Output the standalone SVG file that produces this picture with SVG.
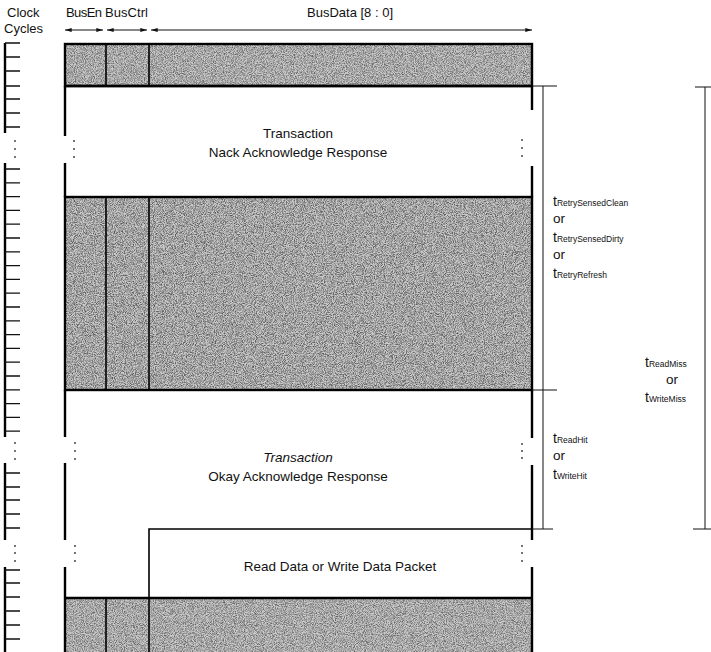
<svg xmlns="http://www.w3.org/2000/svg" width="711" height="652" viewBox="0 0 711 652">
<defs>
<style>
text{font-family:"Liberation Sans",Arial,sans-serif;fill:#111}
.hd{font-size:13px}
.lbl{font-size:13.5px}
.t{font-size:14px}
.sub{font-size:8.5px}
.shade{fill:#a8a8a8}
.grain{fill:#a8a8a8;filter:url(#grain)}
.thick{stroke:#000;stroke-width:2.4;fill:none}
.med{stroke:#000;stroke-width:1.6;fill:none}
.thin{stroke:#111;stroke-width:1;fill:none}
.tick{stroke:#111;stroke-width:1.3}
.dot{fill:#333}
</style>
<filter id="grain" x="0" y="0" width="1" height="1" filterUnits="objectBoundingBox" color-interpolation-filters="sRGB">
<feTurbulence type="fractalNoise" baseFrequency="1.1" numOctaves="2" seed="7" result="n"/>
<feColorMatrix in="n" type="matrix" values="0 0 0 2.2 -0.45  0 0 0 2.2 -0.45  0 0 0 2.2 -0.45  0 0 0 0 1" result="g"/>
<feComposite in="g" in2="SourceGraphic" operator="in"/>
</filter>
<marker id="ah" viewBox="0 0 10 6" refX="10" refY="3" markerWidth="8" markerHeight="4" orient="auto-start-reverse" markerUnits="userSpaceOnUse">
<path d="M0,0 L10,3 L0,6 z" fill="#111"/>
</marker>
</defs>
<rect width="711" height="652" fill="#fff"/>

<g id="header">
<text class="hd" x="7" y="17">Clock</text>
<text class="hd" x="4" y="33">Cycles</text>
<text class="hd" x="66" y="17" textLength="36">BusEn</text>
<text class="hd" x="105" y="17" textLength="43">BusCtrl</text>
<text class="hd" x="307" y="17">BusData [8 : 0]</text>
</g>

<g id="clock">
<path class="thick" d="M5,43 V133 M5,163 V437 M5,463 V540 M5,567 V652"/>
<path class="tick" d="M5,43H20M5,57H20M5,71H20M5,86H20M5,99H20M5,113H20M5,127H20
M5,169H20M5,182.8H20M5,196.6H20M5,210.4H20M5,224.2H20M5,238H20M5,251.8H20M5,265.6H20M5,279.4H20M5,293.2H20M5,307H20M5,320.8H20M5,334.6H20M5,348.4H20M5,362.2H20M5,376H20M5,389.8H20M5,403.6H20M5,417.4H20M5,431.2H20
M5,473H20M5,487H20M5,500H20M5,514H20M5,528H20
M5,570H20M5,583H20M5,597H20M5,611H20M5,625H20M5,639H20"/>
<circle class="dot" cx="15" cy="141" r="0.9"/><circle class="dot" cx="15" cy="149" r="0.9"/><circle class="dot" cx="15" cy="157" r="0.9"/>
<circle class="dot" cx="15" cy="443" r="0.9"/><circle class="dot" cx="15" cy="451" r="0.9"/><circle class="dot" cx="15" cy="459" r="0.9"/>
<circle class="dot" cx="15" cy="546" r="0.9"/><circle class="dot" cx="15" cy="553" r="0.9"/><circle class="dot" cx="15" cy="561" r="0.9"/>
</g>

<g id="band-top">
<rect class="shade" x="65" y="44" width="467" height="42"/>
<rect class="grain" x="65" y="44" width="467" height="42" opacity="0.4"/>
<rect class="thick" x="65" y="44" width="467" height="42"/>
<path class="med" d="M106,44V86M149,44V86"/>
</g>

<g id="nack-box">
<path class="thick" d="M65,86H532 M65,86V136 M65,163V197 M532,86V110 M532,166V197"/>
<circle class="dot" cx="74" cy="141" r="0.9"/><circle class="dot" cx="74" cy="149" r="0.9"/><circle class="dot" cx="74" cy="157" r="0.9"/>
<circle class="dot" cx="522" cy="140" r="0.9"/><circle class="dot" cx="522" cy="148" r="0.9"/><circle class="dot" cx="522" cy="156" r="0.9"/>
<text class="lbl" x="298" y="138" text-anchor="middle">Transaction</text>
<text class="lbl" x="298" y="157" text-anchor="middle">Nack Acknowledge Response</text>
</g>

<g id="retry-band">
<rect class="shade" x="65" y="197" width="467" height="193" style="fill:#a0a0a0"/>
<rect class="grain" x="65" y="197" width="467" height="193" opacity="0.45"/>
<rect class="thick" x="65" y="197" width="467" height="193"/>
<path class="med" d="M106,197V390M149,197V390"/>
</g>

<g id="okay-box">
<path class="thick" d="M65,390V437 M65,463V540 M65,567V598 M532,390V438 M532,465V540 M532,567V598"/>
<circle class="dot" cx="75" cy="443" r="0.9"/><circle class="dot" cx="75" cy="451" r="0.9"/><circle class="dot" cx="75" cy="459" r="0.9"/>
<circle class="dot" cx="75" cy="546" r="0.9"/><circle class="dot" cx="75" cy="553" r="0.9"/><circle class="dot" cx="75" cy="561" r="0.9"/>
<circle class="dot" cx="522" cy="444" r="0.9"/><circle class="dot" cx="522" cy="451" r="0.9"/><circle class="dot" cx="522" cy="458" r="0.9"/>
<circle class="dot" cx="522" cy="546" r="0.9"/><circle class="dot" cx="522" cy="553" r="0.9"/><circle class="dot" cx="522" cy="561" r="0.9"/>
<text class="lbl" x="298" y="462" text-anchor="middle" font-style="italic">Transaction</text>
<text class="lbl" x="298" y="481" text-anchor="middle">Okay Acknowledge Response</text>
</g>

<g id="data-packet">
<path class="med" d="M149,598V529H532"/>
<text class="lbl" x="340" y="571" text-anchor="middle">Read Data or Write Data Packet</text>
</g>

<g id="band-bottom">
<rect class="shade" x="65" y="598" width="467" height="56"/>
<rect class="grain" x="65" y="598" width="467" height="56" opacity="0.4"/>
<path class="thick" d="M65,598H532 M65,598V652 M532,598V652"/>
<path class="med" d="M106,598V652M149,598V652"/>
</g>

<g id="timing-labels">
<text class="t" x="553" y="206">t<tspan class="sub">RetrySensedClean</tspan></text>
<text class="lbl" x="553" y="223">or</text>
<text class="t" x="553" y="242">t<tspan class="sub">RetrySensedDirty</tspan></text>
<text class="lbl" x="553" y="259">or</text>
<text class="t" x="553" y="278">t<tspan class="sub">RetryRefresh</tspan></text>
<text class="t" x="645" y="367">t<tspan class="sub">ReadMiss</tspan></text>
<text class="lbl" x="666" y="384">or</text>
<text class="t" x="645" y="402">t<tspan class="sub">WriteMiss</tspan></text>
<text class="t" x="553" y="443">t<tspan class="sub">ReadHit</tspan></text>
<text class="lbl" x="553" y="460">or</text>
<text class="t" x="553" y="479">t<tspan class="sub">WriteHit</tspan></text>
</g>

<g id="connectors">
<path class="thin" d="M65,30H103" marker-start="url(#ah)" marker-end="url(#ah)"/>
<path class="thin" d="M107,30H147" marker-start="url(#ah)" marker-end="url(#ah)"/>
<path class="thin" d="M151,30H532" marker-start="url(#ah)" marker-end="url(#ah)"/>
<path class="thin" d="M532,86H557 M543,86V529 M532,390H557 M532,529H553"/>
<path class="thin" d="M695,87H711 M705,87V529 M693,529H711"/>
</g>
</svg>
